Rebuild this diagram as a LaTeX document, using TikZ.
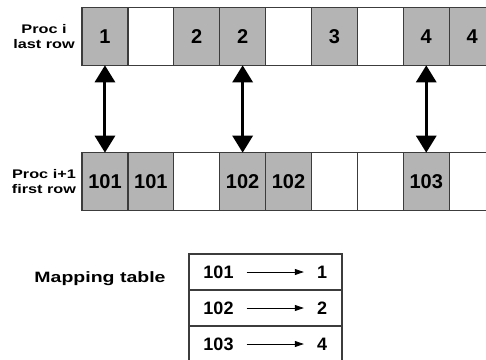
\documentclass[tikz,border=0pt]{standalone}
\usepackage{fontspec}
\setmainfont{Liberation Sans}
\newfontfamily\widefont[FakeStretch=1.3]{Liberation Sans}
\usetikzlibrary{arrows.meta}
\definecolor{cellgray}{RGB}{180,180,180}
\definecolor{cellline}{RGB}{60,60,60}
\tikzset{
  cell/.style={rectangle, draw=cellline, line width=1.2pt, minimum width=45.9pt, minimum height=58pt, inner sep=0pt, outer sep=0pt, font=\fontsize{20}{24}\selectfont\bfseries},
  used/.style={cell, fill=cellgray},
  rowlabel/.style={align=center, font=\widefont\fontsize{12.5}{15}\selectfont\bfseries},
  link/.style={line width=3pt, {Triangle[width=20pt,length=17pt]}-{Triangle[width=20pt,length=17pt]}},
  maprow/.style={rectangle, draw=cellline, line width=1.2pt, minimum width=153pt, minimum height=36pt, inner sep=0pt},
  mapentry/.style={inner xsep=13pt, font=\fontsize{18}{22}\selectfont\bfseries},
  maparrow/.style={line width=0.8pt, -{Triangle[width=6pt,length=9pt]}}
}
\begin{document}
\begin{tikzpicture}[x=1pt, y=-1pt]
    \useasboundingbox (0,0) rectangle (486,359);

    % Draw row labels
    \node[rowlabel] (lastlabel) at (44,37) {Proc i\\last row};
    \node[rowlabel] (firstlabel) at (44,182) {Proc i+1\\first row};

    % Draw cells of both rows
    \foreach \val/\kind [count=\i] in {1/used,/cell,2/used,2/used,/cell,3/used,/cell,4/used,4/used}
        \node[\kind] (t\i) at ({82+45.9*(\i-0.5)}, 36.3) {\val};
    \foreach \val/\kind [count=\i] in {101/used,101/used,/cell,102/used,102/used,/cell,/cell,103/used,/cell}
        \node[\kind] (b\i) at ({82+45.9*(\i-0.5)}, 181.7) {\val};

    % Draw links between matching cells
    \draw[link] (t1) -- (b1);
    \draw[link] (t4) -- (b4);
    \draw[link] (t8) -- (b8);

    % Draw mapping table
    \node[font=\widefont\fontsize{15}{18}\selectfont\bfseries, anchor=base] (maplabel) at (100,282) {Mapping table};
    \foreach \key/\val [count=\i] in {101/1,102/2,103/4} {
        \node[maprow] (m\i) at (265.5, {272+36*(\i-1)}) {};
        \node[mapentry] (k\i) at (218.5, {272+36*(\i-1)}) {\key};
        \node[mapentry] (v\i) at (322, {272+36*(\i-1)}) {\val};
        \draw[maparrow] (k\i) -- (v\i); % key maps to value
    }
\end{tikzpicture}
\end{document}
